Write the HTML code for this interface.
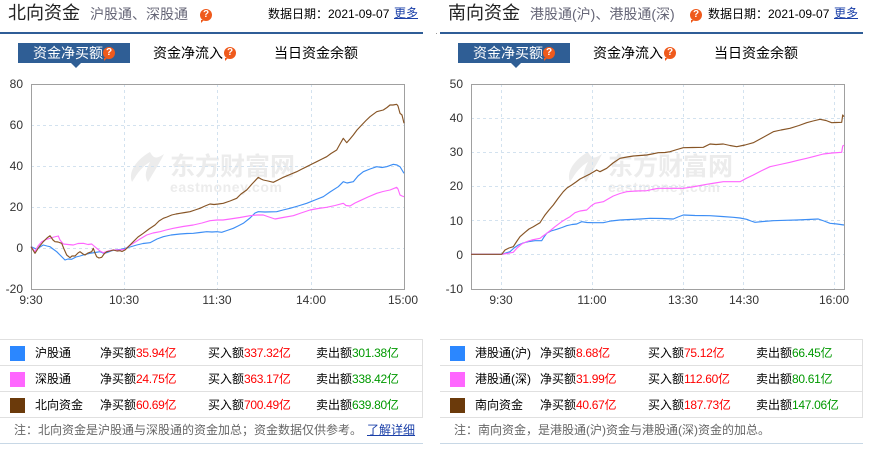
<!DOCTYPE html>
<html><head><meta charset="utf-8">
<style>
html,body{margin:0;padding:0;background:#fff;}
body{width:892px;height:457px;position:relative;overflow:hidden;font-family:"Liberation Sans","Noto Sans CJK SC",sans-serif;color:#000;}
.a{position:absolute;white-space:nowrap;line-height:1;}
.q{position:absolute;width:12px;height:12px;border-radius:50%;background:#ef5a1c;color:#fff;font-size:10px;font-weight:bold;line-height:12px;text-align:center;font-family:"Liberation Sans",sans-serif;}
.q:after{content:"";position:absolute;left:1px;bottom:-2px;border-left:3px solid #ef5a1c;border-bottom:3px solid transparent;border-top:0;}
.bar{position:absolute;height:2px;background:#2f5d97;top:32px;}
.tab{position:absolute;top:43px;height:20px;left:18px;width:112px;background:#2f5e95;}
.tri{position:absolute;top:63px;width:0;height:0;border-left:5px solid transparent;border-right:5px solid transparent;border-top:5px solid #2f5e95;}
.tt{position:absolute;top:46px;font-size:14px;line-height:14px;white-space:nowrap;}
.tbl{position:absolute;top:339px;width:423px;height:78px;border-top:1px solid #e0e0e0;}
.row{position:absolute;left:0;width:422px;height:25px;border-bottom:1px solid #e0e0e0;border-right:1px solid #e0e0e0;}
.sq{position:absolute;left:10px;top:6px;width:15px;height:15px;}
.c{position:absolute;top:7px;font-size:12px;line-height:13px;white-space:nowrap;}
.r{color:#f00;letter-spacing:-0.3px;}
.g{color:#090;letter-spacing:-0.3px;}
.note{position:absolute;top:424px;font-size:12px;color:#666;line-height:13px;white-space:nowrap;}
.hl{position:absolute;top:443px;height:1px;background:#c8d8e6;width:423px;}
</style></head><body>

<!-- LEFT HEADER -->
<div class="a" style="left:8px;top:4px;font-size:18px;color:#222;">北向资金</div>
<div class="a" style="left:90px;top:7px;font-size:14px;color:#667;">沪股通、深股通</div>
<div class="q" style="left:200px;top:9px;">?</div>
<div class="a" style="left:268px;top:8px;font-size:12px;">数据日期：2021-09-07</div>
<div class="a" style="left:394px;top:7px;font-size:12px;color:#1a3fa8;text-decoration:underline;">更多</div>
<div class="bar" style="left:0;width:423px;"></div>
<div style="position:absolute;left:436px;top:33px;width:1px;height:1px;background:#999;"></div>

<div class="tab" style="left:18px;"></div>
<div class="tri" style="left:71px;"></div>
<div class="tt" style="left:33px;color:#fff;">资金净买额</div>
<div class="q" style="left:103px;top:47px;">?</div>
<div class="tt" style="left:153px;">资金净流入</div>
<div class="q" style="left:224px;top:47px;">?</div>
<div class="tt" style="left:274px;">当日资金余额</div>

<!-- RIGHT HEADER -->
<div class="a" style="left:448px;top:4px;font-size:18px;color:#222;">南向资金</div>
<div class="a" style="left:530px;top:7px;font-size:14px;color:#667;">港股通(沪)、港股通(深)</div>
<div class="q" style="left:690px;top:9px;">?</div>
<div class="a" style="left:708px;top:8px;font-size:12px;">数据日期：2021-09-07</div>
<div class="a" style="left:834px;top:7px;font-size:12px;color:#1a3fa8;text-decoration:underline;">更多</div>
<div class="bar" style="left:440px;width:423px;"></div>

<div class="tab" style="left:458px;"></div>
<div class="tri" style="left:511px;"></div>
<div class="tt" style="left:473px;color:#fff;">资金净买额</div>
<div class="q" style="left:543px;top:47px;">?</div>
<div class="tt" style="left:593px;">资金净流入</div>
<div class="q" style="left:664px;top:47px;">?</div>
<div class="tt" style="left:714px;">当日资金余额</div>

<!-- CHARTS -->
<svg width="892" height="457" style="position:absolute;left:0;top:0;" xmlns="http://www.w3.org/2000/svg">
 <g font-family="Liberation Sans, sans-serif">
  <!-- watermarks -->
  <g fill="#ececec">
   <path d="M150 152 C136 160 128 172 132 182 C136 176 140 168 150 162 C146 170 144 176 148 182 C154 172 160 162 164 154 C158 158 154 160 150 152Z"/>
   <text x="170" y="175" font-size="25" font-weight="bold" font-family="Liberation Sans, Noto Sans CJK SC, sans-serif">东方财富网</text>
   <text x="170" y="192" font-size="14" font-weight="bold" letter-spacing="0.6">eastmoney.com</text>
  </g>
  <g fill="#ececec" transform="translate(438,0)">
   <path d="M150 152 C136 160 128 172 132 182 C136 176 140 168 150 162 C146 170 144 176 148 182 C154 172 160 162 164 154 C158 158 154 160 150 152Z"/>
   <text x="170" y="175" font-size="25" font-weight="bold" font-family="Liberation Sans, Noto Sans CJK SC, sans-serif">东方财富网</text>
   <text x="170" y="192" font-size="14" font-weight="bold" letter-spacing="0.6">eastmoney.com</text>
  </g>

  <!-- LEFT GRID -->
  <g stroke="#d3e2ef" stroke-width="1" stroke-dasharray="3,3" fill="none">
   <line x1="31" y1="125.5" x2="404" y2="125.5"/>
   <line x1="31" y1="166.5" x2="404" y2="166.5"/>
   <line x1="31" y1="207.5" x2="404" y2="207.5"/>
   <line x1="31" y1="248.5" x2="404" y2="248.5"/>
   <line x1="124.5" y1="84" x2="124.5" y2="289"/>
   <line x1="217.5" y1="84" x2="217.5" y2="289"/>
   <line x1="311.5" y1="84" x2="311.5" y2="289"/>
  </g>
  <rect x="31.5" y="84.5" width="373" height="205" fill="none" stroke="#a0a0a0"/>
  <g font-size="12" fill="#333" text-anchor="end">
   <text x="23" y="88">80</text>
   <text x="23" y="129">60</text>
   <text x="23" y="170">40</text>
   <text x="23" y="211">20</text>
   <text x="23" y="252">0</text>
   <text x="23" y="293">-20</text>
  </g>
  <g font-size="12" fill="#333" text-anchor="middle">
   <text x="31" y="304">9:30</text>
   <text x="124" y="304">10:30</text>
   <text x="217" y="304">11:30</text>
   <text x="311" y="304">14:00</text>
   <text x="403" y="304">15:00</text>
  </g>
  <g fill="none" stroke-width="1.15" stroke-linejoin="round">
   <polyline stroke="#3d8ef5" points="31,246.7 34,248 36.7,249.3 40,247 43.3,245 47,246 50,246.7 53,249 56.7,251.7 60,255 65,260 68,259 71.7,259.3 76,257 80,256 85,254.5 90,253.3 95,252.5 100,251.7 103,253 106.7,252.7 111,251 115,250 120,249.5 125,248.3 130,247 136.7,245 143,243.5 150,242.7 157,239 163.3,236.7 171,235 180,234 187,233.5 193.3,233.3 200,232.5 206.7,231.7 212,232 217,231.7 221.7,232.3 227,230.5 233.3,228.3 238,226 243.3,223.3 250,218 255,213 258.3,211.7 265,212 276.7,211.7 283,210 290,208.3 298,206 306.7,203.3 315,200 323.3,196.7 330,192 338.3,186.7 343.3,181.7 347,183 353.3,181.7 358,176 363.3,171.7 370,169 376.7,166.7 382,167.5 386.7,166.7 393.3,164.3 397,165 400,166.7 402,170 404,173.3"/>
   <polyline stroke="#ff66ff" points="31,246.7 35,251.7 38,246 41.7,241.7 46,239.5 50,238.3 54,237 58.3,236 60,240 63.3,244 68,244.5 73.3,245 78,243.5 83.3,243.3 88,244.5 91.7,244 94,246 96.7,248.3 100,251 103.3,252.7 108,251 113.3,250 119,250 125,249.3 129,246 133.3,243.3 140,239 146.7,235 153,233 160,231.7 166,230 173.3,228.3 183,226.5 193.3,225 202,223 210,220.7 217,220 223,220 230,219 240,217.5 250,215.7 257,215 263.3,215 269,217 275,219 283,217.5 293.3,215.7 301,213 310,210 318,208.5 326.7,207.3 335,205.5 343.3,203.3 346,205.5 350,206 355,203 360,200.7 368,197 376.7,193.3 383,191.5 390,190 396.7,187.3 398,189 400,195 402,196 404,196.7"/>
   <polyline stroke="#875526" points="31,246.7 35,253.3 39,247 43.3,241.7 47,238 50,235.7 53,240 55,241.7 58,242 61.7,243.3 64,249 66.7,255 70,257.7 72,256 75,256 78,253 80,251.7 83,254 85,255 88,253 91.7,251.7 93.3,248.3 95,253 96.7,256.7 99,258 101.7,257.3 104,254 106.7,251.7 110,251 113.3,250 117,251 120,250.7 122,251.5 125,250 129,246 133.3,241.7 138,237 143.3,233.3 149,229 155,225 159,221 163.3,218.3 167,217 171.7,215 176,214 180,213.3 185,212.5 190,211.7 195,210 200,208.3 205,206 210,204 214,204.5 218.3,204 223.3,203.3 230,201 236.7,198.3 241,194 246.7,190 252,184 258.3,177.3 261,179 263.3,180 268,181 273.3,182.3 278,180 283.3,177.3 290,174.5 296.7,171.7 302,169 306.7,166.7 312,164 316.7,161.7 322,159 326.7,156.7 331,153.5 336.7,150 340,144 343.3,138.3 346.7,142.7 350,139 353.3,135 357,130 361.7,125 366,120.5 370,116.7 376.7,111.7 383.3,110 387,107.5 390,105 393,105 396.7,104.3 398,106 400,113.3 402,115 404,123.3"/>
  </g>

  <!-- RIGHT GRID -->
  <g stroke="#d3e2ef" stroke-width="1" stroke-dasharray="3,3" fill="none">
   <line x1="471" y1="118.5" x2="844" y2="118.5"/>
   <line x1="471" y1="152.5" x2="844" y2="152.5"/>
   <line x1="471" y1="186.5" x2="844" y2="186.5"/>
   <line x1="471" y1="220.5" x2="844" y2="220.5"/>
   <line x1="471" y1="254.5" x2="844" y2="254.5"/>
   <line x1="501.5" y1="84" x2="501.5" y2="289"/>
   <line x1="592.5" y1="84" x2="592.5" y2="289"/>
   <line x1="683.5" y1="84" x2="683.5" y2="289"/>
   <line x1="743.5" y1="84" x2="743.5" y2="289"/>
   <line x1="834.5" y1="84" x2="834.5" y2="289"/>
  </g>
  <rect x="471.5" y="84.5" width="373" height="205" fill="none" stroke="#a0a0a0"/>
  <g font-size="12" fill="#333" text-anchor="end">
   <text x="463" y="88">50</text>
   <text x="463" y="122">40</text>
   <text x="463" y="156">30</text>
   <text x="463" y="190">20</text>
   <text x="463" y="225">10</text>
   <text x="463" y="259">0</text>
   <text x="463" y="293">-10</text>
  </g>
  <g font-size="12" fill="#333" text-anchor="middle">
   <text x="501" y="304">9:30</text>
   <text x="592" y="304">11:00</text>
   <text x="683" y="304">13:30</text>
   <text x="744" y="304">14:30</text>
   <text x="834" y="304">16:00</text>
  </g>
  <g fill="none" stroke-width="1.15" stroke-linejoin="round">
   <polyline stroke="#3d8ef5" points="471,254.3 501.7,254.3 510,251.7 514,248 518.3,245 523,243 528.3,241.7 535,240.7 541.7,240.7 544,237 546.7,233.3 551,231 556.7,229.3 562,227.5 566.7,225.7 572,224.5 576.7,224 581.7,221.7 587,222.5 593.3,222.7 603.3,222.7 611,221 620,220 630,219.5 640,219 650,218.3 662,218.5 673.3,219 678,217 683.3,215 695,215.5 710,215.7 722,216.5 733.3,217.3 740,218 746.7,219.3 751,221 755,222.3 763,221.5 773.3,220.7 785,220.3 796.7,220 808,219.5 818.3,219 824,221 830,223.3 837,224 844,225"/>
   <polyline stroke="#ff66ff" points="471,254.3 501.7,254.3 507,253.5 513.3,252.3 517,248 521.7,244 527,241.5 531.7,240 540,238.3 543,236 546.7,233.3 551,230 555,226.7 561.7,221.7 566,219 570,216.7 575,212.7 580,211 586.7,210 591,206 595,203.3 603.3,201.7 608,199 613.3,196 620,193.5 626.7,191.7 636,191 646.7,190.7 652,189.5 658.3,188.3 666.7,188.3 683.3,188.3 695,186.5 706.7,184.3 715,183 723.3,181.7 730,181.7 740,181.7 746,178.5 753.3,175 761,171 770,166.7 780,164.5 790,162.3 798,160.3 806.7,158.3 815,156.2 823.3,154 832,153 841.7,152.3 842.7,146 844,145.3"/>
   <polyline stroke="#875526" points="471,254.3 501.7,254.3 505,250 509,248 513.3,246.7 517,241 520,236.7 525,232.3 529,229 533.3,226.7 537,224.5 540,222.7 543,218 545,215 549,210 553.3,205 558,198.5 563.3,191.7 567,188 571.7,185 576,182 580,179 585,176.5 590,174 596.7,170 600,171.7 606.7,168.3 613,163 620,158.3 627,157 633.3,156 640,155.5 646.7,155 652,154 658.3,152.7 665,152.5 670,151.7 677,149.5 683.3,147.7 693,147.5 703.3,147.3 710,144 716,144.5 723.3,144 730,145.5 736.7,146.7 745,145 753.3,142.7 762,138 773.3,131.7 781,130 790,128.3 799,125.5 806.7,122.7 813,121 820,119.3 826,120.5 831.7,122.7 836,122.5 841.7,122.3 842.7,115 844,116.7"/>
  </g>
 </g>
</svg>

<!-- LEFT TABLE -->
<div class="tbl" style="left:0;">
 <div class="row" style="top:0;"><div class="sq" style="background:#2b87ff;"></div>
  <div class="c" style="left:35px;">沪股通</div>
  <div class="c" style="left:100px;">净买额<span class="r">35.94亿</span></div>
  <div class="c" style="left:208px;">买入额<span class="r">337.32亿</span></div>
  <div class="c" style="left:316px;">卖出额<span class="g">301.38亿</span></div></div>
 <div class="row" style="top:26px;"><div class="sq" style="background:#ff66ff;"></div>
  <div class="c" style="left:35px;">深股通</div>
  <div class="c" style="left:100px;">净买额<span class="r">24.75亿</span></div>
  <div class="c" style="left:208px;">买入额<span class="r">363.17亿</span></div>
  <div class="c" style="left:316px;">卖出额<span class="g">338.42亿</span></div></div>
 <div class="row" style="top:52px;"><div class="sq" style="background:#6b3a0b;"></div>
  <div class="c" style="left:35px;">北向资金</div>
  <div class="c" style="left:100px;">净买额<span class="r">60.69亿</span></div>
  <div class="c" style="left:208px;">买入额<span class="r">700.49亿</span></div>
  <div class="c" style="left:316px;">卖出额<span class="g">639.80亿</span></div></div>
</div>
<div class="note" style="left:14px;">注：北向资金是沪股通与深股通的资金加总；资金数据仅供参考。</div>
<div class="note" style="left:367px;color:#1a3fa8;text-decoration:underline;">了解详细</div>
<div class="hl" style="left:0;"></div>

<!-- RIGHT TABLE -->
<div class="tbl" style="left:440px;">
 <div class="row" style="top:0;"><div class="sq" style="background:#2b87ff;"></div>
  <div class="c" style="left:35px;">港股通(沪)</div>
  <div class="c" style="left:100px;">净买额<span class="r">8.68亿</span></div>
  <div class="c" style="left:208px;">买入额<span class="r">75.12亿</span></div>
  <div class="c" style="left:316px;">卖出额<span class="g">66.45亿</span></div></div>
 <div class="row" style="top:26px;"><div class="sq" style="background:#ff66ff;"></div>
  <div class="c" style="left:35px;">港股通(深)</div>
  <div class="c" style="left:100px;">净买额<span class="r">31.99亿</span></div>
  <div class="c" style="left:208px;">买入额<span class="r">112.60亿</span></div>
  <div class="c" style="left:316px;">卖出额<span class="g">80.61亿</span></div></div>
 <div class="row" style="top:52px;"><div class="sq" style="background:#6b3a0b;"></div>
  <div class="c" style="left:35px;">南向资金</div>
  <div class="c" style="left:100px;">净买额<span class="r">40.67亿</span></div>
  <div class="c" style="left:208px;">买入额<span class="r">187.73亿</span></div>
  <div class="c" style="left:316px;">卖出额<span class="g">147.06亿</span></div></div>
</div>
<div class="note" style="left:454px;">注：南向资金，是港股通(沪)资金与港股通(深)资金的加总。</div>
<div class="hl" style="left:440px;"></div>

</body></html>
